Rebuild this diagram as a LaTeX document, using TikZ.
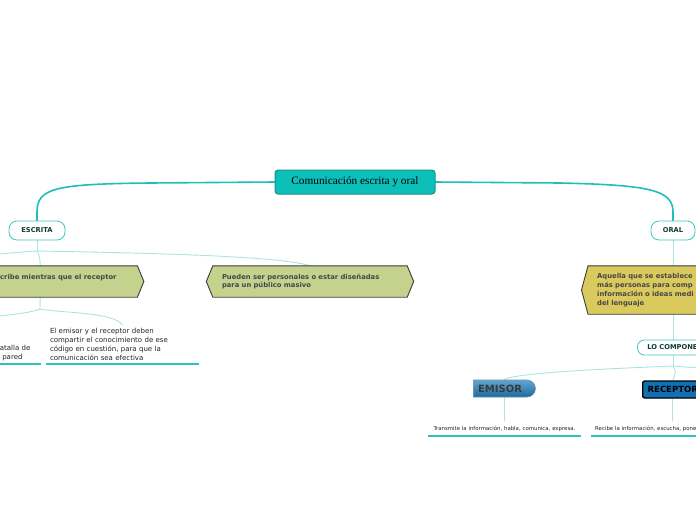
\documentclass[tikz,border=0pt]{standalone}
\usepackage{fontspec}
\setmainfont{DejaVu Sans}
\newfontfamily\rootfont{Liberation Serif}
\usetikzlibrary{shapes.misc}
\pgfdeclarelayer{linkl}
\pgfdeclarelayer{bgl}
\pgfsetlayers{linkl,bgl,main}
\definecolor{tealmain}{HTML}{1DBFBA}
\definecolor{rootf}{HTML}{0CBFB9}
\definecolor{rootb}{HTML}{17918D}
\definecolor{pillb}{HTML}{3CC8C2}
\definecolor{pillt}{HTML}{0E3D30}
\definecolor{thinl}{HTML}{A8E5E1}
\definecolor{ulinec}{HTML}{2CC3BD}
\definecolor{olivef}{HTML}{C4D28D}
\definecolor{yellowf}{HTML}{DACA5D}
\definecolor{hexb}{HTML}{3B3B3B}
\definecolor{boxt}{HTML}{474747}
\definecolor{bodyt}{HTML}{222222}
\definecolor{emtop}{HTML}{62A6D2}
\definecolor{embot}{HTML}{1D6A9E}
\definecolor{emb}{HTML}{6B8FA8}
\definecolor{emt}{HTML}{3A3A3A}
\definecolor{recf}{HTML}{1270B2}
\newcommand\fsbox{\fontsize{6.8}{8.8}\selectfont\bfseries}
\newcommand\fspill{\fontsize{6.7}{8}\selectfont\bfseries}
\newcommand\fsbody{\fontsize{7}{9}\selectfont}
\newcommand\fssmall{\fontsize{5.4}{6.5}\selectfont}
\begin{document}
\begin{tikzpicture}[x=1pt,y=-1pt,
  rootbox/.style={draw=rootb, fill=rootf, line width=1pt, rounded corners=3pt,
    minimum width=160pt, minimum height=24pt, inner sep=0pt,
    font=\rootfont\fontsize{11.3}{13}\selectfont},
  pill/.style={draw=pillb, fill=white, line width=0.8pt, rounded corners=8pt,
    minimum height=19pt, inner xsep=0pt, text=pillt, font=\fspill},
  hexbox/.style={inner xsep=9pt, inner ysep=0pt, minimum height=31pt, align=left,
    text=boxt, font=\fsbox},
  hexolive/.style={fill=olivef, draw=hexb, line width=0.9pt},
  hexyellow/.style={fill=yellowf, draw=hexb, line width=0.9pt},
  bodytext/.style={text=bodyt, font=\fsbody, align=left, inner xsep=4pt, inner ysep=3pt},
  smalltext/.style={text=bodyt, font=\fssmall, inner ysep=4.5pt},
  mainlink/.style={draw=tealmain, line width=1.6pt, line cap=round},
  thinlink/.style={draw=thinl, line width=0.9pt},
  uline/.style={draw=ulinec, line width=1.2pt},
  emisorbox/.style={rounded rectangle, rounded rectangle west arc=none,
    minimum width=62pt, minimum height=17pt, inner sep=0pt,
    top color=emtop, bottom color=embot, draw=emb, line width=0.6pt,
    text=emt, font=\bfseries\fontsize{10}{12}\selectfont},
  receptorbox/.style={rectangle, rounded corners=2pt, fill=recf, draw=black,
    line width=1.3pt, minimum height=17pt, inner xsep=5pt, inner ysep=0pt,
    text=black, font=\bfseries\fontsize{8.5}{10}\selectfont}
]
\useasboundingbox (0,0) rectangle (696,520);
\clip (0,0) rectangle (696,520);

% nodes
\node[rootbox] (root) at (355,182) {Comunicación escrita y oral};
\node[pill, minimum width=56pt] (escrita) at (37,230.5) {ESCRITA};
\node[pill, minimum width=44pt] (oral) at (673,230.5) {ORAL};
\node[hexbox, text width=128pt, anchor=west] (b1) at (-9,281.5)
  {cribe mientras que el receptor\\\mbox{}};
\node[hexbox, text width=176pt] (b2) at (310,281.5)
  {Pueden ser personales o estar diseñadas\\para un público masivo};
\node[bodytext, text width=37pt, anchor=south east] (n1) at (41,364)
  {atalla de\\\hspace*{2.5pt}pared};
\node[bodytext, text width=145pt, anchor=south] (n2) at (122.5,364)
  {El emisor y el receptor deben\\compartir el conocimiento de ese\\código en cuestión, para que la\\comunicación sea efectiva};
\node[hexbox, text width=152pt, minimum height=48pt, anchor=west] (b3) at (588,290)
  {Aquella que se establece\\más personas para comp\\información o ideas medi\\del lenguaje};
\node[pill, anchor=west, minimum height=15pt, rounded corners=7pt, inner xsep=10pt] (lo) at (637,347.5) {LO COMPONENTES};
\node[emisorbox] (emisor) at (504,388.5) {EMISOR\hspace*{8pt}};
\node[receptorbox, anchor=west] (receptor) at (642,389.5) {RECEPTOR};
\node[smalltext, anchor=south, text width=153pt, inner xsep=0pt, align=center] (t1) at (504.5,436)
  {Transmite la información, habla, comunica, expresa.};
\node[smalltext, anchor=south west, text width=150pt, inner xsep=4pt, align=left] (t2) at (591,436)
  {Recibe la información, escucha, pone};

% split points and free ends
\coordinate (es) at (37,251);
\coordinate (offl) at (-20,256);
\coordinate (bs) at (40,309);
\coordinate (offl2) at (-20,318);
\coordinate (ls) at (673,366);
\coordinate (offr) at (716,369);

% hexagon shapes
\begin{pgfonlayer}{bgl}
\path[hexolive] (b1.north west) -- (b1.north east) -- ([xshift=6.5pt]b1.east)
  -- (b1.south east) -- (b1.south west) -- ([xshift=-6.5pt]b1.west) -- cycle;
\path[hexolive] (b2.north west) -- (b2.north east) -- ([xshift=6.5pt]b2.east)
  -- (b2.south east) -- (b2.south west) -- ([xshift=-6.5pt]b2.west) -- cycle;
\path[hexyellow] (b3.north west) -- (b3.north east) -- ([xshift=6.5pt]b3.east)
  -- (b3.south east) -- (b3.south west) -- ([xshift=-6.5pt]b3.west) -- cycle;
\end{pgfonlayer}

% connectors
\begin{pgfonlayer}{linkl}
\draw[mainlink] (root.west) -- (150,183) .. controls (55,184) and (37,188) .. (37,212) -- (escrita.north);
\draw[mainlink] (root.east) -- (560,183) .. controls (650,185) and (673,190) .. (673,212) -- (oral.north);
\draw[thinlink] (escrita.south) -- (es);
\draw[thinlink] (es) .. controls (40,255) and (40,260) .. ([xshift=-24pt]b1.north);
\draw[thinlink] (es) .. controls (150,253) and (280,256) .. (b2.north);
\draw[thinlink] (es) .. controls (20,252) and (0,254) .. (offl);
\draw[thinlink] ([xshift=-24pt]b1.south) -- (bs);
\draw[thinlink] (bs) .. controls (60,313) and (115,312) .. (n2.north);
\draw[thinlink] (bs) .. controls (30,313) and (10,315) .. (offl2);
\draw[thinlink] (oral.south) -- (oral.south |- lo.north);
\draw[thinlink] (oral.south |- lo.south) -- (ls);
\draw[thinlink] (ls) .. controls (600,369) and (515,373) .. (emisor.north);
\draw[thinlink] (ls) .. controls (676,372) .. (receptor.north);
\draw[thinlink] (ls) .. controls (685,367) .. (offr);
\draw[thinlink] (emisor.south) -- (emisor.south |- t1.north);
\draw[thinlink] (receptor.south) -- (receptor.south |- t2.north);
\end{pgfonlayer}

% underlines
\draw[uline] (n1.south west) -- (n1.south east);
\draw[uline] (n2.south west) -- (n2.south east);
\draw[uline] (t1.south west) -- (t1.south east);
\draw[uline] (t2.south west) -- (t2.south east);
\end{tikzpicture}
\end{document}
